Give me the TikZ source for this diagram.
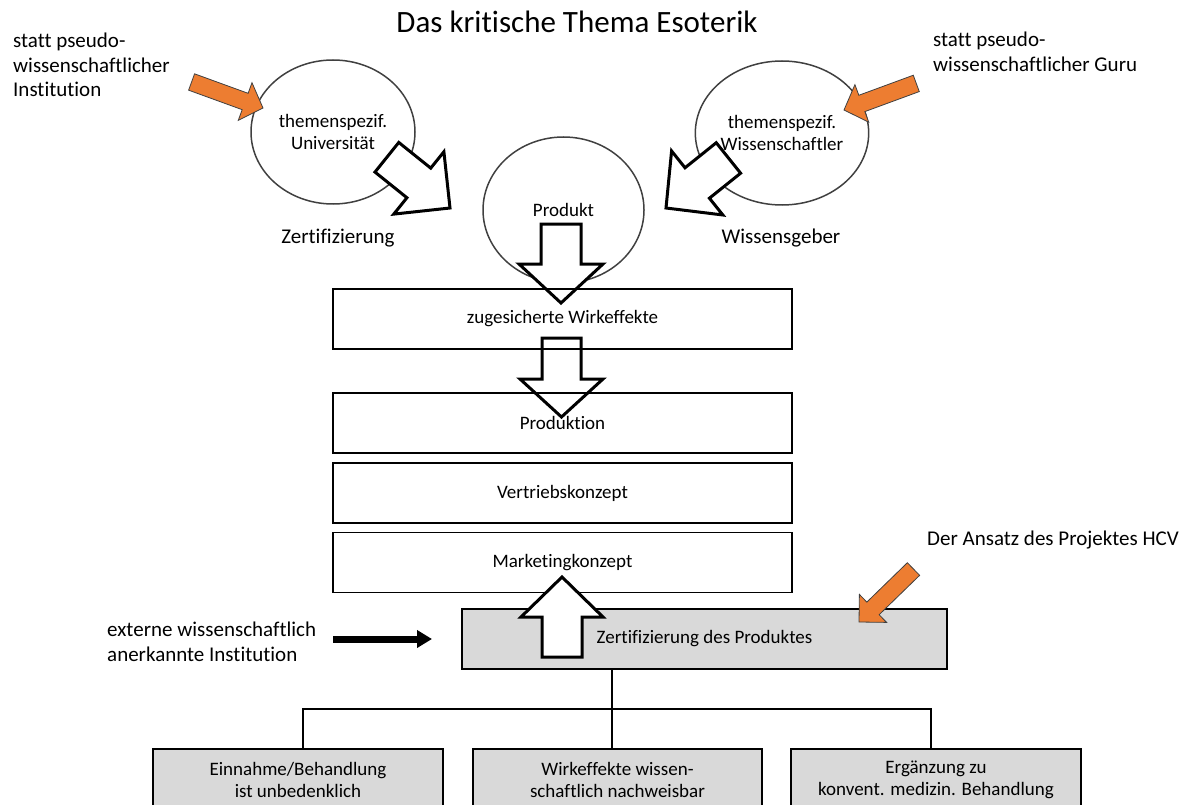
\documentclass[tikz,border=0pt]{standalone}
\usepackage{fontspec}
\setmainfont{Carlito}[Ligatures=NoCommon]
\usetikzlibrary{shapes.geometric,arrows.meta}
\definecolor{orangeA}{HTML}{ED7D31}
\definecolor{grayfill}{HTML}{D9D9D9}
\definecolor{ellline}{HTML}{404040}
% #1 style, #2 #3 tip, #4 angle, #5 total length, #6 head length, #7 head half width, #8 shaft half width
\newcommand\blockarr[8]{\draw[#1,shift={(#2,#3)},rotate=#4] (0,0) -- (-#6,#7) -- (-#6,#8) -- (-#5,#8) -- (-#5,-#8) -- (-#6,-#8) -- (-#6,-#7) -- cycle;}
\begin{document}
\begin{tikzpicture}[x=1pt,y=-1pt,
  lbl/.style={font=\fontsize{21}{24.5}\selectfont, inner sep=0pt, align=left, anchor=west},
  clbl/.style={font=\fontsize{21}{24.5}\selectfont, inner sep=0pt, align=center},
  ell/.style={ellipse, draw=ellline, line width=1.5pt, inner sep=0pt, align=center,
    font=\fontsize{19}{22}\selectfont},
  wbox/.style={draw=black, line width=1.5pt, minimum width=459pt, minimum height=60pt,
    inner sep=0pt, align=center, font=\fontsize{19}{22}\selectfont},
  gbox/.style={draw=black, fill=grayfill, line width=1.3pt, minimum height=60pt,
    inner sep=0pt, align=center, font=\fontsize{19}{22}\selectfont},
  barrow/.style={draw=black, fill=white, line width=3pt, line join=miter},
  oarrow/.style={draw=black!75, fill=orangeA, line width=0.8pt, line join=miter},
  tree/.style={draw=black, line width=2.5pt},
]
\useasboundingbox (0,0) rectangle (1188,805);
\clip (0,0) rectangle (1188,805);

% title
\node[font=\fontsize{31}{36}\selectfont, inner sep=0pt] (title) at (577,22) {Das kritische Thema Esoterik};

% ellipses
\node[ell, minimum width=164pt, minimum height=144pt] (univ) at (333,132) {themenspezif.\\Universität};
\node[ell, minimum width=162pt, minimum height=144pt] (wiss) at (782,133) {themenspezif.\\Wissenschaftler};
\node[ell, minimum width=161pt, minimum height=146pt] (prod) at (563.5,210) {Produkt};

% labels
\node[lbl] (l1) at (13,65) {statt pseudo-\\wissenschaftlicher\\Institution};
\node[lbl] (l2) at (933,52) {statt pseudo-\\wissenschaftlicher Guru};
\node[clbl] (zert) at (338,238) {Zertifizierung};
\node[clbl] (wgeb) at (781,238) {Wissensgeber};
\node[lbl] (hcv) at (927,540) {Der Ansatz des Projektes HCV};
\node[lbl] (ext) at (107,642) {externe wissenschaftlich\\anerkannte Institution};

% gray certification box
\node[gbox, minimum width=485pt] (zbox) at (704.5,639) {Zertifizierung des Produktes};

% block arrows (downwards, diagonal)
\blockarr{barrow}{450}{208}{-38.8}{81}{40}{40}{19}
\blockarr{barrow}{666}{208}{-141.3}{80}{40}{41}{19.5}
\blockarr{barrow}{561}{303}{-90}{79}{39}{42}{20}
\blockarr{barrow}{561.5}{417}{-90}{79}{38}{41.5}{19.5}

% white process boxes
\node[wbox] (b1) at (562.5,319) {zugesicherte Wirkeffekte};
\node[wbox] (b2) at (562.5,423) {Produktion};
\node[wbox] (b3) at (562.5,493) {Vertriebskonzept};
\node[wbox] (b4) at (562.5,562.5) {Marketingkonzept};

% up arrow
\blockarr{barrow}{562}{577}{90}{80}{40}{41}{20}

% orange arrows
\blockarr{oarrow}{263}{108}{-20}{76}{19}{20}{8.7}
\blockarr{oarrow}{844}{110}{-159.8}{77}{19}{20}{8.7}
\blockarr{oarrow}{859}{622}{-135.8}{76}{19.5}{19.5}{8.8}

% black arrow
\coordinate (extS) at (333,639);
\coordinate (extE) at (432,639);
\draw[line width=7pt, -{Triangle[length=15pt,width=17pt]}] (extS) -- (extE);

% bottom boxes
\node[gbox, minimum width=290pt, minimum height=62pt] (c1) at (298,780) {Einnahme/Behandlung\\ist unbedenklich};
\node[gbox, minimum width=289pt, minimum height=62pt] (c2) at (617.5,780) {Wirkeffekte wissen-\\schaftlich nachweisbar};
\node[gbox, minimum width=290pt, minimum height=62pt] (c3) at (936,780) {Ergänzung zu\\konvent. medizin. Behandlung};

% tree
\coordinate (hub) at (612,709);
\coordinate (dA) at (303,749);
\coordinate (dC) at (931,749);
\draw[tree] (zbox.south -| hub) -- (hub |- c2.north);
\draw[tree] (dA |- c1.north) |- (hub) -| (dC |- c3.north);
\end{tikzpicture}
\end{document}
